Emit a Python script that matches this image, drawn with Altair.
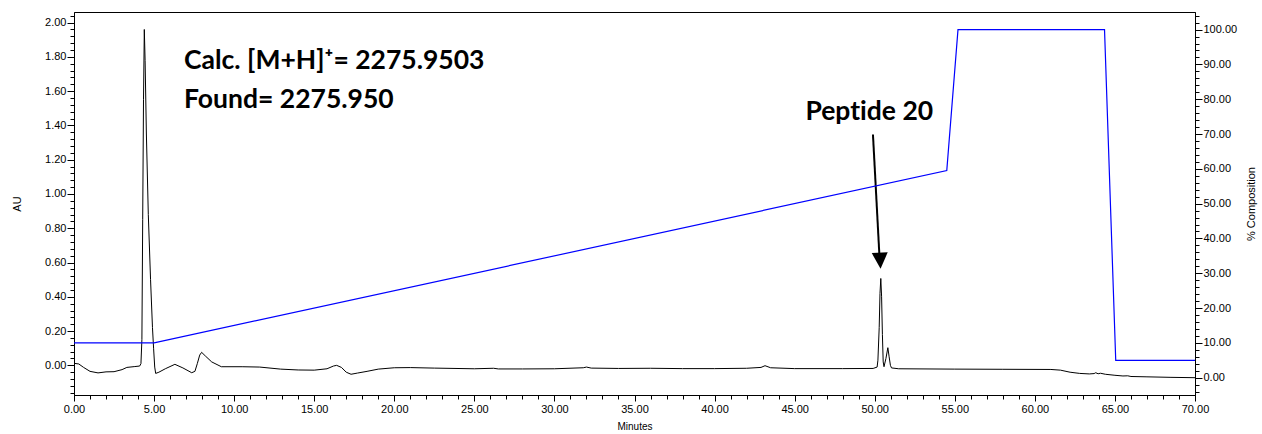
import altair as alt
import pandas as pd

# ---- chromatogram (AU) ----
time_min = [0.0, 0.3, 0.6, 1.0, 1.5, 2.0, 2.5, 3.0, 3.3, 3.8,
            4.1, 4.18, 4.24, 4.29, 4.34, 4.39, 4.44, 4.52, 4.64, 4.78,
            4.9, 4.97, 5.04, 5.1, 5.3, 5.7, 6.3, 6.8, 7.35, 7.55,
            7.7, 7.85, 7.97, 8.2, 8.6, 9.2, 10.5, 11.6, 12.9, 14.0,
            15.0, 15.8, 16.2, 16.4, 16.7, 17.0, 17.3, 17.7, 18.3, 19.0,
            20.0, 21.0, 22.5, 25.0, 26.2, 26.5, 28.0, 30.0, 31.8, 32.0,
            32.3, 34.0, 36.0, 38.0, 40.0, 42.0, 42.9, 43.15, 43.5, 45.0,
            48.0, 49.9, 50.15, 50.2, 50.28, 50.33, 50.38, 50.43, 50.48, 50.53,
            50.58, 50.7, 50.82, 50.9, 50.98, 51.05, 51.5, 55.0, 58.0, 61.0,
            61.6, 62.2, 62.8, 63.4, 63.7, 63.8, 63.95, 64.1, 64.4, 65.0,
            65.5, 65.8, 66.0, 67.0, 68.5, 70.0]
au_signal = [0.012, 0.008, -0.012, -0.035, -0.044, -0.038, -0.037, -0.025, -0.012, -0.007,
             -0.004, 0.01, 0.15, 0.85, 1.55, 1.96, 1.78, 1.35, 0.88, 0.5,
             0.22, 0.10, -0.01, -0.047, -0.04, -0.02, 0.006, -0.015, -0.043, -0.035,
             0.01, 0.06, 0.076, 0.055, 0.02, -0.008, -0.008, -0.01, -0.022, -0.027,
             -0.028, -0.02, -0.004, 0.0, -0.012, -0.04, -0.052, -0.045, -0.035, -0.022,
             -0.014, -0.013, -0.016, -0.02, -0.017, -0.021, -0.021, -0.02, -0.014, -0.01,
             -0.016, -0.018, -0.017, -0.019, -0.019, -0.017, -0.012, -0.002, -0.014, -0.019,
             -0.019, -0.018, -0.01, 0.03, 0.22, 0.42, 0.507, 0.40, 0.18, 0.02,
             -0.008, 0.04, 0.103, 0.05, 0.0, -0.015, -0.02, -0.022, -0.023, -0.024,
             -0.028, -0.04, -0.047, -0.05, -0.048, -0.043, -0.049, -0.046, -0.052, -0.058,
             -0.062, -0.061, -0.065, -0.067, -0.07, -0.072]
assert len(time_min) == len(au_signal)

# ---- gradient (% composition) ----
grad_time = [0, 5, 54.5, 55.2, 64.35, 65.05, 70]
grad_pct = [10, 10, 59.5, 100, 100, 5, 5]

# ---- annotations (data coordinates on the AU scale) ----
note_text = ["Calc. [M+H]\u207a= 2275.9503", "Found= 2275.950"]
note_x = [6.87, 6.87]
note_y = [1.728, 1.504]
peak_label = ["Pept\u200cide 20"]
peak_label_x = [49.66]
peak_label_y = [1.434]
arrow_x = [49.89]
arrow_y = [1.347]
arrow_x2 = [50.3]
arrow_y2 = [0.63]
head_x = [50.34]
head_y = [0.611]

# ---- tick values ----
x_ticks = list(range(0, 71))
au_ticks = [round(-0.16 + 0.04 * i, 2) for i in range(56)]
pct_ticks = list(range(-4, 105, 2))

AXFONT = "Liberation Sans"
NOTEFONT = "Lato"
NOTESIZE = 26.5

x_axis = alt.Axis(
    values=x_ticks,
    labelExpr="datum.value % 5 === 0 ? format(datum.value, '.2f') : ''",
    tickSize={"condition": {"test": "datum.value % 5 === 0", "value": 6}, "value": 4},
    grid=False, domainColor="black", tickColor="black", labelColor="black",
    labelFont=AXFONT, labelFontSize=11, labelPadding=2, labelFlush=False,
    labelOverlap=False, title="Minutes", titleFont=AXFONT, titleFontSize=10,
    titleFontWeight="normal", titleColor="black", titlePadding=7,
)
x_enc = alt.X("t:Q", scale=alt.Scale(domain=[0, 70], nice=False, zero=False), axis=x_axis)

au_axis = alt.Axis(
    values=au_ticks, orient="left",
    labelExpr="(abs(datum.value*5 - round(datum.value*5)) < 0.000001 && datum.value > -0.001) ? format(datum.value, '.2f') : ''",
    tickSize={"condition": {"test": "abs(datum.value*5 - round(datum.value*5)) < 0.000001", "value": 7}, "value": 4},
    grid=False, domainColor="black", tickColor="black", labelColor="black",
    labelFont=AXFONT, labelFontSize=11, labelPadding=1, labelFlush=False,
    labelOverlap=False, title="AU", titleFont=AXFONT, titleFontSize=11,
    titleFontWeight="normal", titleColor="black", titlePadding=22,
)
au_scale = alt.Scale(domain=[-0.173, 2.062], nice=False, zero=False)

pct_axis = alt.Axis(
    values=pct_ticks, orient="right",
    labelExpr="(datum.value % 10 === 0 && datum.value >= 0) ? format(datum.value, '.2f') : ''",
    tickSize={"condition": {"test": "datum.value % 10 === 0", "value": 7}, "value": 4},
    grid=False, domainColor="black", tickColor="black", labelColor="black",
    labelFont=AXFONT, labelFontSize=11, labelPadding=1, labelFlush=False,
    labelOverlap=False, title="% Composition", titleFont=AXFONT, titleFontSize=11,
    titleFontWeight="normal", titleColor="black", titleAngle=270, titlePadding=20,
)
pct_scale = alt.Scale(domain=[-4.97, 105.05], nice=False, zero=False)

trace_df = pd.DataFrame({"t": time_min, "v": au_signal})
grad_df = pd.DataFrame({"t": grad_time, "v": grad_pct})
notes_df = pd.DataFrame({"t": note_x, "v": note_y, "label": note_text})
peak_df = pd.DataFrame({"t": peak_label_x, "v": peak_label_y, "label": peak_label})
arrow_df = pd.DataFrame({"t": arrow_x, "v": arrow_y, "t2": arrow_x2, "v2": arrow_y2})
head_df = pd.DataFrame({"t": head_x, "v": head_y})

y_au = alt.Y("v:Q", scale=au_scale, axis=au_axis)

trace = alt.Chart(trace_df).mark_line(color="black", strokeWidth=1, clip=True).encode(
    x=x_enc, y=y_au, order="t:Q")

notes = alt.Chart(notes_df).mark_text(
    font=NOTEFONT, fontWeight="bold", fontSize=NOTESIZE, align="left", baseline="alphabetic",
    color="black").encode(x=x_enc, y=y_au, text="label:N")

peak_txt = alt.Chart(peak_df).mark_text(
    font=NOTEFONT, fontWeight="bold", fontSize=NOTESIZE, align="center", baseline="alphabetic",
    color="black").encode(x=x_enc, y=y_au, text="label:N")

arrow = alt.Chart(arrow_df).mark_rule(color="black", strokeWidth=2).encode(
    x=x_enc, y=y_au, x2="t2:Q", y2="v2:Q")

head = alt.Chart(head_df).mark_point(
    shape="M-1,-1L1,-1L0,1Z", filled=True, color="black", opacity=1, size=256,
    angle=357, strokeWidth=0).encode(x=x_enc, y=y_au)

au_layer = alt.layer(trace, notes, peak_txt, arrow, head)

grad = alt.Chart(grad_df).mark_line(color="#0000ff", strokeWidth=1.2, clip=True).encode(
    x=x_enc, y=alt.Y("v:Q", scale=pct_scale, axis=pct_axis), order="t:Q")

chart = alt.layer(au_layer, grad).resolve_scale(y="independent").properties(
    width=1121, height=383,
    autosize=alt.AutoSizeParams(type="none"),
    padding={"left": 74, "top": 12, "right": 67, "bottom": 39},
    background="white",
).configure_view(stroke="black", strokeWidth=1)

chart.save("out.html", embed_options={"renderer": "svg", "actions": False})
